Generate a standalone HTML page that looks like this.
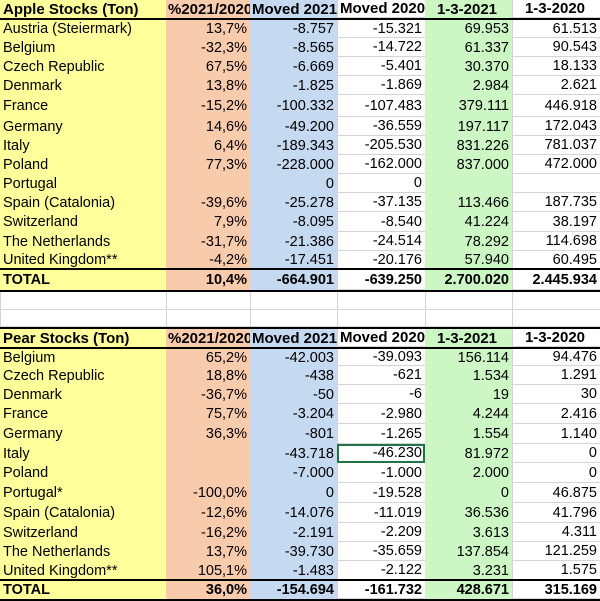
<!DOCTYPE html>
<html><head><meta charset="utf-8"><style>
*{box-sizing:border-box;margin:0;padding:0}
body{width:600px;height:601px;background:#fff;font-family:"Liberation Sans",Arial,sans-serif;font-size:14.5px;color:#000;position:relative;overflow:hidden}
.r{position:absolute;left:0;width:600px;display:flex}
.r>div{height:100%;white-space:nowrap;overflow:hidden;text-align:right;padding-right:3px;display:flex;align-items:center;justify-content:flex-end}
.a{width:166px;background:#ffff9c;justify-content:flex-start!important;padding-left:3px}
.b{width:84px;background:#f8cbad}
.c{width:87px;background:#c5d9f1}
.d{width:88px;background:#fff;border-left:1px solid #d4d4d4;border-bottom:1px solid #d4d4d4}
.e{width:87px;background:#ccf7c4}
.f{width:88px;background:#fff;border-left:1px solid #d4d4d4;border-bottom:1px solid #d4d4d4}
.h>div{font-weight:bold;font-size:15px}
.h .b,.h .c,.h .d{justify-content:flex-start!important;padding-left:2px}
.h .e,.h .f{justify-content:center!important}
.t>div{font-weight:bold}
.bt{border-top:2px solid #000}
.bb{border-bottom:2px solid #000}
.w>div{background:#fff;border-left:1px solid #d4d4d4;border-bottom:1px solid #d4d4d4}
.sel{outline:2px solid #217346;outline-offset:-2px}
</style></head><body>
<div class="r h bb" style="top:0;height:20px"><div class="a">Apple Stocks (Ton)</div><div class="b">%2021/2020</div><div class="c">Moved 2021</div><div class="d">Moved 2020</div><div class="e">1-3-2021</div><div class="f">1-3-2020</div></div>
<div class="r" style="top:20px;height:18px"><div class="a">Austria (Steiermark)</div><div class="b">13,7%</div><div class="c">-8.757</div><div class="d">-15.321</div><div class="e">69.953</div><div class="f">61.513</div></div>
<div class="r" style="top:38px;height:19px"><div class="a">Belgium</div><div class="b">-32,3%</div><div class="c">-8.565</div><div class="d">-14.722</div><div class="e">61.337</div><div class="f">90.543</div></div>
<div class="r" style="top:57px;height:19px"><div class="a">Czech Republic</div><div class="b">67,5%</div><div class="c">-6.669</div><div class="d">-5.401</div><div class="e">30.370</div><div class="f">18.133</div></div>
<div class="r" style="top:76px;height:19px"><div class="a">Denmark</div><div class="b">13,8%</div><div class="c">-1.825</div><div class="d">-1.869</div><div class="e">2.984</div><div class="f">2.621</div></div>
<div class="r" style="top:95px;height:22px"><div class="a">France</div><div class="b">-15,2%</div><div class="c">-100.332</div><div class="d">-107.483</div><div class="e">379.111</div><div class="f">446.918</div></div>
<div class="r" style="top:117px;height:19px"><div class="a">Germany</div><div class="b">14,6%</div><div class="c">-49.200</div><div class="d">-36.559</div><div class="e">197.117</div><div class="f">172.043</div></div>
<div class="r" style="top:136px;height:19px"><div class="a">Italy</div><div class="b">6,4%</div><div class="c">-189.343</div><div class="d">-205.530</div><div class="e">831.226</div><div class="f">781.037</div></div>
<div class="r" style="top:155px;height:19px"><div class="a">Poland</div><div class="b">77,3%</div><div class="c">-228.000</div><div class="d">-162.000</div><div class="e">837.000</div><div class="f">472.000</div></div>
<div class="r" style="top:174px;height:19px"><div class="a">Portugal</div><div class="b"></div><div class="c">0</div><div class="d">0</div><div class="e"></div><div class="f"></div></div>
<div class="r" style="top:193px;height:19px"><div class="a">Spain (Catalonia)</div><div class="b">-39,6%</div><div class="c">-25.278</div><div class="d">-37.135</div><div class="e">113.466</div><div class="f">187.735</div></div>
<div class="r" style="top:212px;height:20px"><div class="a">Switzerland</div><div class="b">7,9%</div><div class="c">-8.095</div><div class="d">-8.540</div><div class="e">41.224</div><div class="f">38.197</div></div>
<div class="r" style="top:232px;height:19px"><div class="a">The Netherlands</div><div class="b">-31,7%</div><div class="c">-21.386</div><div class="d">-24.514</div><div class="e">78.292</div><div class="f">114.698</div></div>
<div class="r" style="top:251px;height:18px"><div class="a">United Kingdom**</div><div class="b">-4,2%</div><div class="c">-17.451</div><div class="d">-20.176</div><div class="e">57.940</div><div class="f">60.495</div></div>
<div class="r t bt bb" style="top:268px;height:24px"><div class="a">TOTAL</div><div class="b">10,4%</div><div class="c">-664.901</div><div class="d">-639.250</div><div class="e">2.700.020</div><div class="f">2.445.934</div></div>
<div class="r w" style="top:292px;height:18px"><div class="a"></div><div class="b"></div><div class="c"></div><div class="d"></div><div class="e"></div><div class="f"></div></div>
<div class="r w" style="top:310px;height:17px"><div class="a"></div><div class="b"></div><div class="c"></div><div class="d"></div><div class="e"></div><div class="f"></div></div>
<div class="r h bt bb" style="top:327px;height:22px"><div class="a">Pear Stocks (Ton)</div><div class="b">%2021/2020</div><div class="c">Moved 2021</div><div class="d">Moved 2020</div><div class="e">1-3-2021</div><div class="f">1-3-2020</div></div>
<div class="r" style="top:349px;height:17px"><div class="a">Belgium</div><div class="b">65,2%</div><div class="c">-42.003</div><div class="d">-39.093</div><div class="e">156.114</div><div class="f">94.476</div></div>
<div class="r" style="top:366px;height:19px"><div class="a">Czech Republic</div><div class="b">18,8%</div><div class="c">-438</div><div class="d">-621</div><div class="e">1.534</div><div class="f">1.291</div></div>
<div class="r" style="top:385px;height:19px"><div class="a">Denmark</div><div class="b">-36,7%</div><div class="c">-50</div><div class="d">-6</div><div class="e">19</div><div class="f">30</div></div>
<div class="r" style="top:404px;height:20px"><div class="a">France</div><div class="b">75,7%</div><div class="c">-3.204</div><div class="d">-2.980</div><div class="e">4.244</div><div class="f">2.416</div></div>
<div class="r" style="top:424px;height:20px"><div class="a">Germany</div><div class="b">36,3%</div><div class="c">-801</div><div class="d">-1.265</div><div class="e">1.554</div><div class="f">1.140</div></div>
<div class="r" style="top:444px;height:19px"><div class="a">Italy</div><div class="b"></div><div class="c">-43.718</div><div class="d sel">-46.230</div><div class="e">81.972</div><div class="f">0</div></div>
<div class="r" style="top:463px;height:20px"><div class="a">Poland</div><div class="b"></div><div class="c">-7.000</div><div class="d">-1.000</div><div class="e">2.000</div><div class="f">0</div></div>
<div class="r" style="top:483px;height:20px"><div class="a">Portugal*</div><div class="b">-100,0%</div><div class="c">0</div><div class="d">-19.528</div><div class="e">0</div><div class="f">46.875</div></div>
<div class="r" style="top:503px;height:20px"><div class="a">Spain (Catalonia)</div><div class="b">-12,6%</div><div class="c">-14.076</div><div class="d">-11.019</div><div class="e">36.536</div><div class="f">41.796</div></div>
<div class="r" style="top:523px;height:19px"><div class="a">Switzerland</div><div class="b">-16,2%</div><div class="c">-2.191</div><div class="d">-2.209</div><div class="e">3.613</div><div class="f">4.311</div></div>
<div class="r" style="top:542px;height:19px"><div class="a">The Netherlands</div><div class="b">13,7%</div><div class="c">-39.730</div><div class="d">-35.659</div><div class="e">137.854</div><div class="f">121.259</div></div>
<div class="r" style="top:561px;height:19px"><div class="a">United Kingdom**</div><div class="b">105,1%</div><div class="c">-1.483</div><div class="d">-2.122</div><div class="e">3.231</div><div class="f">1.575</div></div>
<div class="r t bt bb" style="top:579px;height:22px"><div class="a">TOTAL</div><div class="b">36,0%</div><div class="c">-154.694</div><div class="d">-161.732</div><div class="e">428.671</div><div class="f">315.169</div></div>
</body></html>
